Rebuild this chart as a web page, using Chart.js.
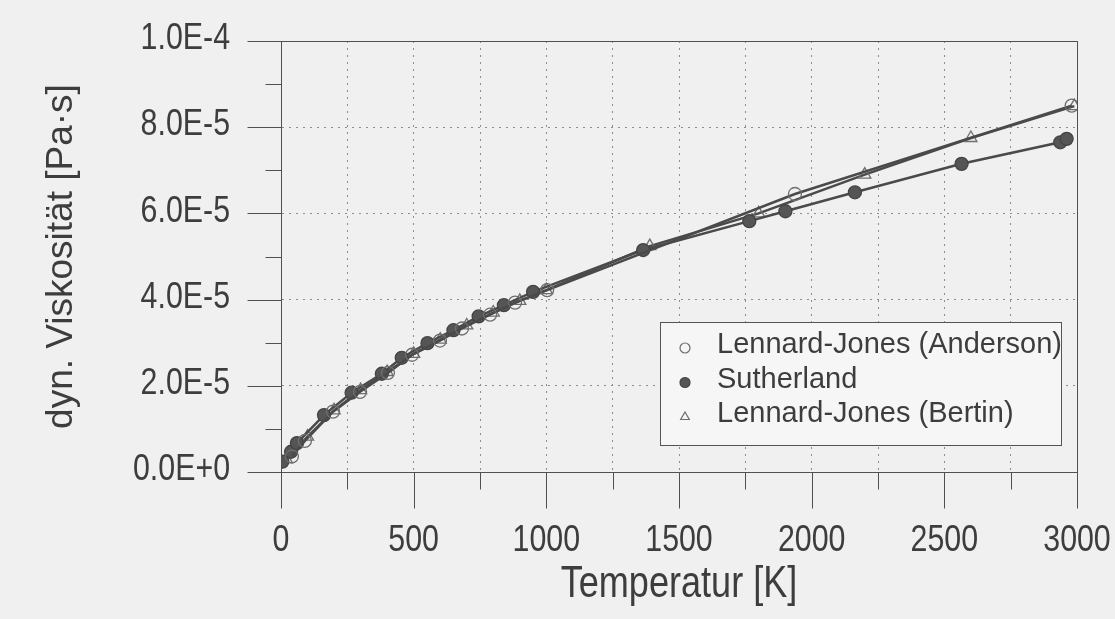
<!DOCTYPE html>
<html>
<head>
<meta charset="utf-8">
<script src="https://cdn.jsdelivr.net/npm/chart.js@4/dist/chart.umd.min.js"></script>
<style>
  html, body { margin: 0; padding: 0; background: #f0f0f0; }
  canvas { display: block; }
</style>
</head>
<body>
<canvas id="visc" width="1115" height="619"></canvas>
<script>
// Lennard-Jones (Anderson) - open circles
const tempAnderson = [41, 90, 196, 298, 403, 494, 599, 682, 788, 882, 1003, 1937, 2980];
const viscAnderson = [0.36e-5, 0.72e-5, 1.40e-5, 1.86e-5, 2.30e-5, 2.72e-5, 3.05e-5, 3.33e-5, 3.65e-5, 3.93e-5, 4.22e-5, 6.45e-5, 8.50e-5];

// Sutherland - filled circles
const tempSutherland = [5, 38, 60, 162, 266, 380, 455, 552, 650, 745, 840, 950, 1365, 1765, 1901, 2163, 2565, 2937, 2961];
const viscSutherland = [0.24e-5, 0.47e-5, 0.67e-5, 1.32e-5, 1.84e-5, 2.28e-5, 2.65e-5, 2.99e-5, 3.29e-5, 3.61e-5, 3.87e-5, 4.18e-5, 5.15e-5, 5.82e-5, 6.05e-5, 6.49e-5, 7.15e-5, 7.65e-5, 7.73e-5];

// Lennard-Jones (Bertin) - open triangles
const tempBertin = [20, 100, 200, 300, 400, 500, 600, 700, 800, 900, 1000, 1390, 1800, 2200, 2600, 2990];
const viscBertin = [0.30e-5, 0.82e-5, 1.43e-5, 1.90e-5, 2.32e-5, 2.74e-5, 3.07e-5, 3.40e-5, 3.70e-5, 3.97e-5, 4.22e-5, 5.24e-5, 6.00e-5, 6.90e-5, 7.75e-5, 8.49e-5];

const xTitle = 'Temperatur [K]';
const yTitle = 'dyn. Viskosität [Pa·s]';

const INK = '#3d3d3d';
const LINE = '#4a4a4a';
const MARK = '#6e6e6e';
const SANS = "'Liberation Sans', Arial, sans-serif";
const SQUEEZE = 0.82; // the scan uses a narrow face for tick labels and the x title

const toPoints = (xs, ys) => xs.map((t, i) => ({ x: t, y: ys[i] }));

const crisp = v => Math.round(v) + 0.5;

function narrowText(ctx, text, x, y, size, align, baseline) {
  ctx.save();
  ctx.translate(x, y);
  ctx.scale(SQUEEZE, 1);
  ctx.font = size + 'px ' + SANS;
  ctx.textAlign = align;
  ctx.textBaseline = baseline;
  ctx.fillText(text, 0, 0);
  ctx.restore();
}

// page colour, box round the plot, long/short tick marks, tick labels
const frame = {
  id: 'frame',
  beforeDraw(chart) {
    const ctx = chart.ctx;
    ctx.save();
    ctx.fillStyle = '#f0f0f0';
    ctx.fillRect(0, 0, chart.width, chart.height);
    ctx.restore();
  },
  afterDraw(chart) {
    const { ctx, chartArea: a, scales: { x, y } } = chart;
    ctx.save();
    ctx.strokeStyle = '#505050';
    ctx.lineWidth = 1;
    ctx.beginPath();
    ctx.rect(crisp(a.left), crisp(a.top), Math.round(a.right - a.left), Math.round(a.bottom - a.top));
    x.ticks.forEach((t, i) => {
      const px = crisp(x.getPixelForValue(t.value));
      const len = i % 2 === 0 ? 36 : 17;
      ctx.moveTo(px, crisp(a.bottom));
      ctx.lineTo(px, crisp(a.bottom) + len);
    });
    y.ticks.forEach((t, i) => {
      const py = crisp(y.getPixelForValue(t.value));
      const len = i % 2 === 0 ? 34 : 16;
      ctx.moveTo(crisp(a.left) - len, py);
      ctx.lineTo(crisp(a.left), py);
    });
    ctx.stroke();

    ctx.fillStyle = INK;
    x.ticks.forEach((t, i) => {
      if (i % 2) return;
      narrowText(ctx, String(t.value), x.getPixelForValue(t.value), a.bottom + 69, 37, 'center', 'middle');
    });
    y.ticks.forEach((t, i) => {
      if (i % 2) return;
      const lab = Number(t.value).toExponential(1).toUpperCase();
      narrowText(ctx, lab, a.left - 51, y.getPixelForValue(t.value) - 2, 37, 'right', 'middle');
    });
    narrowText(ctx, xTitle, (a.left + a.right) / 2, a.bottom + 125, 44, 'center', 'alphabetic');
    ctx.restore();
  }
};

function marker(ctx, style, cx, cy, r, filled) {
  ctx.beginPath();
  if (style === 'triangle') {
    for (let k = 0; k < 3; k++) {
      const ang = -Math.PI / 2 + k * 2 * Math.PI / 3;
      const px = cx + Math.cos(ang) * r, py = cy + Math.sin(ang) * r;
      k === 0 ? ctx.moveTo(px, py) : ctx.lineTo(px, py);
    }
    ctx.closePath();
  } else {
    ctx.arc(cx, cy, r, 0, Math.PI * 2);
  }
  if (filled) ctx.fill();
  ctx.stroke();
}

// boxed legend inside the plot, lower right
const boxLegend = {
  id: 'boxLegend',
  afterDraw(chart) {
    const ctx = chart.ctx;
    const bx = 660.5, by = 322.5, bw = 401, bh = 123;
    ctx.save();
    ctx.fillStyle = '#f6f6f6';
    ctx.strokeStyle = '#555';
    ctx.lineWidth = 1;
    ctx.fillRect(bx, by, bw, bh);
    ctx.strokeRect(bx, by, bw, bh);
    ctx.font = '29px ' + SANS;
    ctx.textBaseline = 'alphabetic';
    ctx.textAlign = 'left';
    chart.data.datasets.forEach((ds, i) => {
      const base = 353 + i * 34.5;
      ctx.fillStyle = ds.pointBackgroundColor;
      ctx.strokeStyle = ds.pointBorderColor;
      ctx.lineWidth = 1.2;
      const filled = ds.pointBackgroundColor !== 'rgba(0,0,0,0)';
      marker(ctx, ds.pointStyle, 685, base - 5, 5, filled);
      ctx.fillStyle = INK;
      ctx.fillText(ds.label, 717, base);
    });
    ctx.restore();
  }
};

new Chart(document.getElementById('visc'), {
  type: 'line',
  data: {
    datasets: [
      {
        label: 'Lennard-Jones (Anderson)',
        data: toPoints(tempAnderson, viscAnderson),
        borderColor: LINE,
        borderWidth: 2.5,
        pointStyle: 'circle',
        pointRadius: 6.5,
        pointBackgroundColor: 'rgba(0,0,0,0)',
        pointBorderColor: MARK,
        pointBorderWidth: 1.3,
        tension: 0
      },
      {
        label: 'Sutherland',
        data: toPoints(tempSutherland, viscSutherland),
        borderColor: LINE,
        borderWidth: 2.5,
        pointStyle: 'circle',
        pointRadius: 6.5,
        pointBackgroundColor: '#555555',
        pointBorderColor: '#444444',
        pointBorderWidth: 1.3,
        tension: 0
      },
      {
        label: 'Lennard-Jones (Bertin)',
        data: toPoints(tempBertin, viscBertin),
        borderColor: LINE,
        borderWidth: 2.5,
        pointStyle: 'triangle',
        pointRadius: 7,
        pointBackgroundColor: 'rgba(0,0,0,0)',
        pointBorderColor: MARK,
        pointBorderWidth: 1.3,
        tension: 0
      }
    ]
  },
  options: {
    responsive: false,
    animation: false,
    layout: { padding: { left: 0, right: 38, top: 41, bottom: 0 } },
    plugins: {
      legend: { display: false },
      tooltip: { enabled: false }
    },
    scales: {
      x: {
        type: 'linear',
        min: 0,
        max: 3000,
        afterFit: s => { s.height = 147; s.paddingLeft = 0; s.paddingRight = 0; },
        grid: { color: '#8c8c8c', lineWidth: 1, drawTicks: false },
        border: { display: true, color: '#505050', width: 1, dash: [2, 5] },
        ticks: { stepSize: 250, autoSkip: false, display: false },
        title: { display: false }
      },
      y: {
        type: 'linear',
        min: 0,
        max: 1e-4,
        afterFit: s => { s.width = 281; s.paddingTop = 0; s.paddingBottom = 0; },
        grid: {
          color: c => (c.index % 2 === 0 ? '#8c8c8c' : 'rgba(0,0,0,0)'),
          lineWidth: 1,
          drawTicks: false
        },
        border: { display: true, color: '#505050', width: 1, dash: [2, 5] },
        ticks: { stepSize: 1e-5, autoSkip: false, display: false },
        title: {
          display: true,
          text: yTitle,
          color: INK,
          font: { family: SANS, size: 37 },
          padding: { top: 40, bottom: 0 }
        }
      }
    }
  },
  plugins: [frame, boxLegend]
});
</script>
</body>
</html>
